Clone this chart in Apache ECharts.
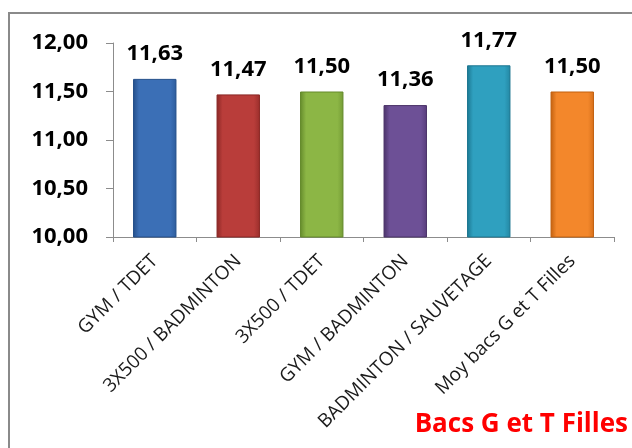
<!DOCTYPE html>
<html>
<head>
<meta charset="utf-8">
<script src="https://cdn.jsdelivr.net/npm/echarts@6/dist/echarts.min.js"></script>
<style>html,body{margin:0;padding:0;background:#fff}#c{width:632px;height:448px}</style>
</head>
<body>
<div id="c"></div>
<script>
const categories = ["GYM / TDET", "3X500 / BADMINTON", "3X500 / TDET", "GYM / BADMINTON", "BADMINTON / SAUVETAGE", "Moy bacs G et T Filles"];
const values = [11.63, 11.47, 11.50, 11.36, 11.77, 11.50];
const yTicks = [10, 10.5, 11, 11.5, 12];
const title = "Bacs G et T Filles";
const barColors = [
  ["#244f8a", "#3b6fb6", "#2d5c9c"],
  ["#8a2725", "#b93d3a", "#9a2f2c"],
  ["#648a2b", "#8cb645", "#749c35"],
  ["#4a3268", "#6d5096", "#583d7c"],
  ["#1c7690", "#2fa0bf", "#2387a3"],
  ["#c2600f", "#f3872b", "#d6701b"]
];
const fmt = v => v.toFixed(2).replace('.', ',');
const chart = echarts.init(document.getElementById('c'));
chart.setOption({
  animation: false,
  graphic: [{
    type: 'rect', shape: { x: 9, y: 13, width: 700, height: 500 },
    style: { fill: 'none', stroke: '#8a8a8a', lineWidth: 2 }, z: -1
  }, {
    type: 'text', right: 4, top: 412,
    style: { text: title, fill: '#ff0000', font: 'bold 26px "Open Sans"' }
  }],
  grid: { left: 113, right: 18, top: 43, bottom: 211, containLabel: false },
  xAxis: {
    type: 'category', data: categories,
    axisLine: { lineStyle: { color: '#8c8c8c', width: 1 } },
    axisTick: { show: true, alignWithLabel: false, length: 5, lineStyle: { color: '#8c8c8c' } },
    axisLabel: { rotate: 45, margin: 21, color: '#1a1a1a', fontSize: 19, fontFamily: 'Open Sans', interval: 0 }
  },
  yAxis: {
    type: 'value', min: yTicks[0], max: yTicks[yTicks.length - 1], interval: 0.5,
    splitLine: { show: false },
    axisLine: { show: true, lineStyle: { color: '#8c8c8c', width: 1 } },
    axisTick: { show: true, length: 7, lineStyle: { color: '#8c8c8c' } },
    axisLabel: { formatter: fmt, color: '#000', fontSize: 22, fontWeight: 'bold', fontFamily: 'Open Sans', margin: 25 }
  },
  series: [{
    type: 'bar', barWidth: '52%',
    data: values.map((v, i) => ({
      value: v,
      itemStyle: {
        color: {
          type: 'linear', x: 0, y: 0, x2: 1, y2: 0,
          colorStops: [
            { offset: 0, color: barColors[i][0] },
            { offset: 0.14, color: barColors[i][1] },
            { offset: 0.86, color: barColors[i][1] },
            { offset: 1, color: barColors[i][2] }
          ]
        },
        borderColor: barColors[i][0], borderWidth: 1
      }
    })),
    label: {
      show: true, position: 'top', distance: 14, formatter: p => fmt(p.value),
      color: '#000', fontSize: 22, fontWeight: 'bold', fontFamily: 'Open Sans'
    }
  }]
});
</script>
</body>
</html>
